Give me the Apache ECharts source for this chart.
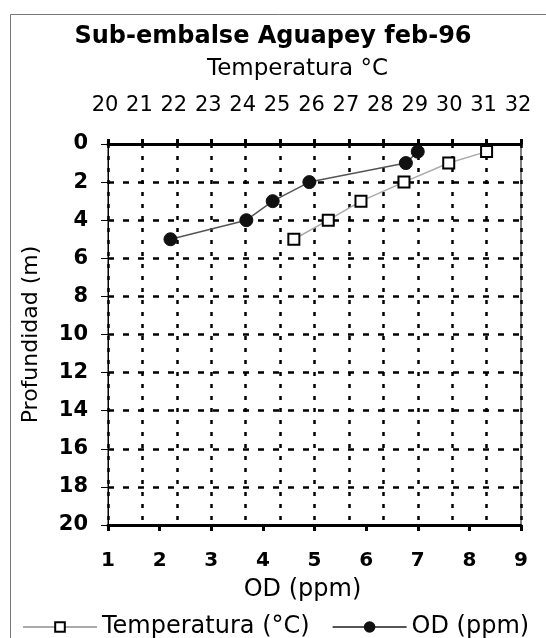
<!DOCTYPE html>
<html>
<head>
<meta charset="utf-8">
<script src="https://cdn.jsdelivr.net/npm/echarts@6/dist/echarts.min.js"></script>
<style>
html,body{margin:0;padding:0;background:#fff;}
#c{width:546px;height:638px;}
</style>
</head>
<body>
<div id="c"></div>
<script>
// ---- data ----
var titleText = 'Sub-embalse Aguapey feb-96';
var tempAxisName = 'Temperatura °C';
var odAxisName = 'OD (ppm)';
var depthAxisName = 'Profundidad (m)';
var tempSeriesName = 'Temperatura (°C)';
var odSeriesName = 'OD (ppm)';

var tempDepth = [0.4, 1, 2, 3, 4, 5];
var tempValues = [31.0, 29.9, 28.6, 27.35, 26.4, 25.4];
var odDepth = [0.4, 1, 2, 3, 4, 5];
var odValues = [7.0, 6.77, 4.9, 4.19, 3.68, 2.21];

var tempMin = 20, tempMax = 32, tempStep = 1;
var odMin = 1, odMax = 9, odStep = 1;
var depthMin = 0, depthMax = 20, depthStep = 2;

var wide = 'DejaVu Sans, sans-serif';

var tempData = tempValues.map(function (v, i) { return [v, tempDepth[i]]; });
var odData = odValues.map(function (v, i) { return [v, odDepth[i]]; });

var chart = echarts.init(document.getElementById('c'), null, {renderer: 'canvas'});
chart.setOption({
  backgroundColor: '#fff',
  animation: false,
  textStyle: {fontFamily: wide, color: '#000'},
  title: {
    text: titleText,
    left: 'center',
    top: 20,
    textStyle: {fontFamily: wide, fontSize: 24, fontWeight: 'bold', color: '#000'}
  },
  graphic: [{
    type: 'rect',
    left: 8, top: 12,
    shape: {width: 700, height: 800},
    style: {fill: 'none', stroke: '#777', lineWidth: 1},
    silent: true, z: -10
  }],
  legend: {
    top: 610,
    left: 17,
    right: 0,
    padding: 5,
    itemWidth: 74,
    itemHeight: 12,
    itemGap: 22,
    textStyle: {fontFamily: wide, fontSize: 24, color: '#000'},
    data: [tempSeriesName, odSeriesName]
  },
  grid: {
    left: 108, right: 25, top: 144, bottom: 113,
    show: true, borderColor: '#000', borderWidth: 1,
    containLabel: false
  },
  xAxis: [{
    type: 'value',
    position: 'bottom',
    min: odMin, max: odMax, interval: odStep,
    name: odAxisName,
    nameLocation: 'middle',
    nameGap: 53,
    nameTextStyle: {fontFamily: wide, fontSize: 24, color: '#000', padding: [0, 24, 0, 0]},
    axisLine: {show: true, onZero: false, lineStyle: {color: '#000', width: 3}},
    axisTick: {show: true, inside: false, length: 6, lineStyle: {color: '#000', width: 3}},
    axisLabel: {fontFamily: wide, fontSize: 20, fontWeight: 'bold', color: '#000', margin: 26},
    splitLine: {show: false}
  }, {
    type: 'value',
    position: 'top',
    min: tempMin, max: tempMax, interval: tempStep,
    name: tempAxisName,
    nameLocation: 'middle',
    nameGap: 63,
    nameTextStyle: {fontFamily: wide, fontSize: 23, color: '#000', padding: [0, 34, 0, 0]},
    axisLine: {show: true, onZero: false, lineStyle: {color: '#000', width: 3}},
    axisTick: {show: true, inside: false, length: 5, lineStyle: {color: '#000', width: 3}},
    axisLabel: {fontFamily: wide, fontSize: 21, color: '#000', margin: 28, padding: [0, 6, 0, 0]},
    splitLine: {show: true, lineStyle: {color: '#000', width: 2.5, type: [4, 8]}}
  }],
  yAxis: [{
    type: 'value',
    inverse: true,
    min: depthMin, max: depthMax, interval: depthStep,
    name: depthAxisName,
    nameLocation: 'middle',
    nameGap: 66,
    nameRotate: 90,
    nameTextStyle: {fontFamily: wide, fontSize: 22, color: '#000'},
    axisLine: {show: true, onZero: false, lineStyle: {color: '#000', width: 1}},
    axisTick: {show: true, inside: false, length: 7, lineStyle: {color: '#000', width: 1}},
    axisLabel: {fontFamily: wide, fontSize: 21, fontWeight: 'bold', color: '#000', margin: 20},
    splitLine: {show: true, lineStyle: {color: '#000', width: 2.5, type: [6, 9]}}
  }],
  series: [{
    name: tempSeriesName,
    type: 'line',
    xAxisIndex: 1,
    yAxisIndex: 0,
    data: tempData,
    symbol: 'rect',
    symbolSize: 11,
    lineStyle: {color: '#aaa', width: 1.5},
    itemStyle: {color: '#fff', borderColor: '#000', borderWidth: 2},
    z: 5
  }, {
    name: odSeriesName,
    type: 'line',
    xAxisIndex: 0,
    yAxisIndex: 0,
    data: odData,
    symbol: 'circle',
    symbolSize: 13,
    lineStyle: {color: '#555', width: 1.5},
    itemStyle: {color: '#111', borderColor: '#111', borderWidth: 1},
    z: 6
  }]
});
</script>
</body>
</html>
